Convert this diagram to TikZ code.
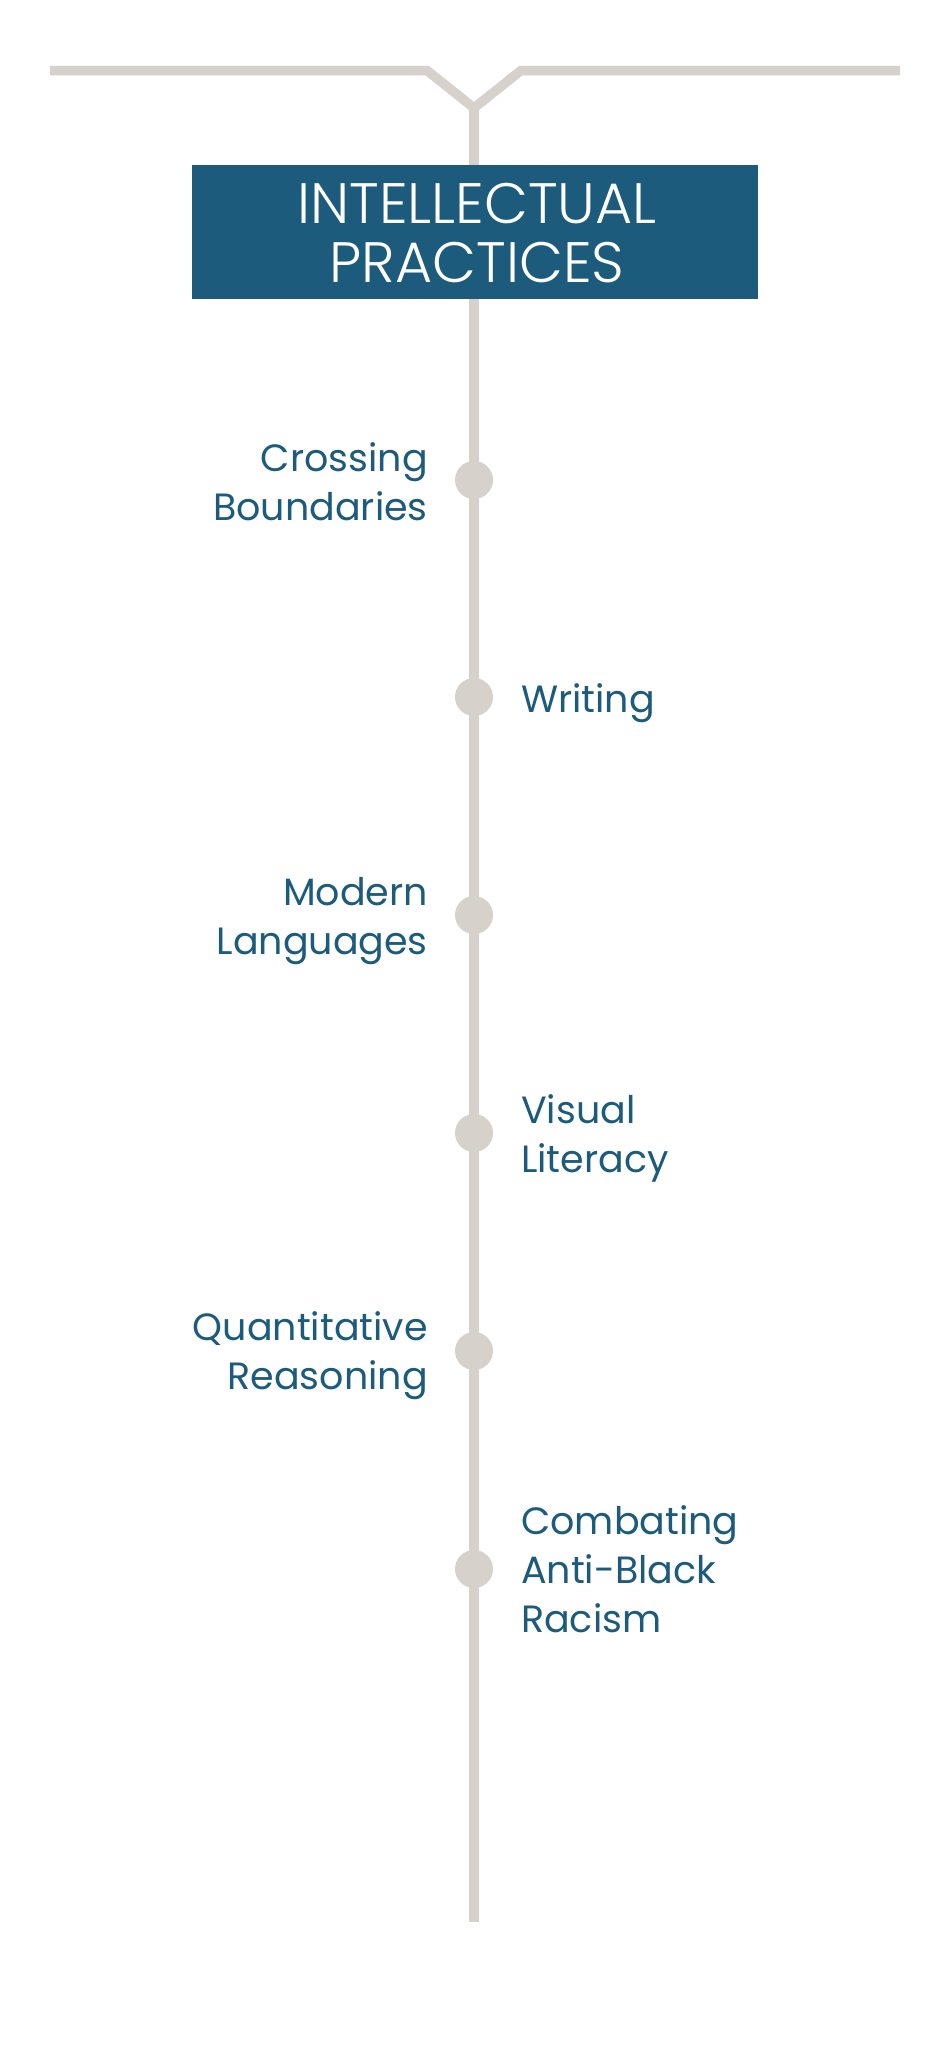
\documentclass[tikz,border=0pt]{standalone}
\usepackage{fontspec}
\setmainfont{Poppins}
\newfontfamily\titlefont{Poppins}[UprightFont=* Light]
\definecolor{navy}{HTML}{1D5B7D}
\definecolor{rail}{HTML}{D6D1CB}
\begin{document}
\begin{tikzpicture}[x=1pt,y=-1pt,
  railline/.style={draw=rail,line width=9.5pt},
  stop/.style={circle,fill=rail,minimum size=38pt,inner sep=0pt},
  leftlabel/.style={anchor=base east,inner sep=0pt,text=navy,font=\fontsize{38}{49}\selectfont},
  rightlabel/.style={anchor=base west,inner sep=0pt,text=navy,font=\fontsize{38}{49}\selectfont},
  titletext/.style={anchor=base,inner sep=0pt,text=white,font=\titlefont\fontsize{57}{59}\selectfont},
  titlebox/.style={fill=navy,minimum width=566pt,minimum height=134pt,inner sep=0pt}]
\useasboundingbox (0,0) rectangle (949,2048);
\fill[white] (0,0) rectangle (949,2048);
\coordinate (lend) at (50,70.5);
\coordinate (lbend) at (427,70.5);
\coordinate (fork) at (474,108);
\coordinate (rbend) at (521,70.5);
\coordinate (rend) at (900,70.5);
\coordinate (bottom) at (474,1922);
\draw[railline,line join=miter] (lend) -- (lbend) -- (fork) -- (rbend) -- (rend);
\draw[railline] (fork) -- (bottom);
\node[titlebox] (title) at (475,232) {};
\node[titletext] (t1) at (477,223) {INTELLECTUAL};
\node[titletext] (t2) at (477,282) {PRACTICES};
\node[stop] (s1) at (474,480) {};
\node[stop] (s2) at (474,697) {};
\node[stop] (s3) at (474,915) {};
\node[stop] (s4) at (474,1133) {};
\node[stop] (s5) at (474,1351) {};
\node[stop] (s6) at (474,1569) {};
\node[leftlabel] (l1) at (428,471) {\begin{tabular}[t]{@{}r@{}}Crossing\\Boundaries\end{tabular}};
\node[rightlabel] (l2) at (521,712) {\begin{tabular}[t]{@{}l@{}}Writing\end{tabular}};
\node[leftlabel] (l3) at (428,905) {\begin{tabular}[t]{@{}r@{}}Modern\\Languages\end{tabular}};
\node[rightlabel] (l4) at (521,1123) {\begin{tabular}[t]{@{}l@{}}Visual\\Literacy\end{tabular}};
\node[leftlabel] (l5) at (428,1340) {\begin{tabular}[t]{@{}r@{}}Quantitative\\Reasoning\end{tabular}};
\node[rightlabel] (l6) at (521,1534) {\begin{tabular}[t]{@{}l@{}}Combating\\Anti-Black\\Racism\end{tabular}};
\end{tikzpicture}
\end{document}
